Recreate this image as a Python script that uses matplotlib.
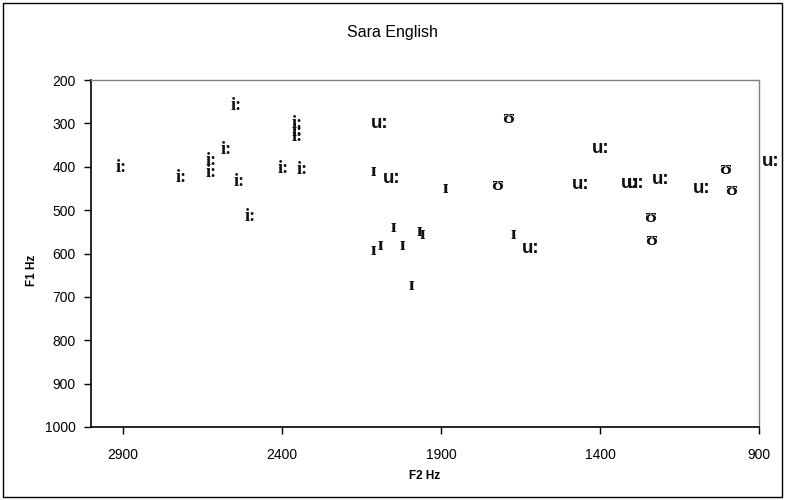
import matplotlib
matplotlib.use("Agg")
import matplotlib.pyplot as plt
import matplotlib.transforms as mtransforms
from matplotlib.patches import Rectangle

# ---- data (F2 Hz, F1 Hz) per vowel ----
i_f2 = [2931, 2745, 2650, 2650, 2603, 2571, 2560, 2528, 2423, 2379, 2379, 2379, 2363]
i_f1 = [401, 424, 386, 414, 361, 259, 434, 515, 404, 300, 318, 330, 407]

I_f2 = [2131, 1905, 2068, 1987, 1978, 2131, 2110, 2041, 2010, 1690]
I_f1 = [411, 450, 540, 550, 557, 593, 582, 582, 673, 556]

U_f2 = [1716, 1750, 1035, 1016, 1271, 1268]
U_f1 = [288, 444, 407, 454, 516, 569]

u_f2 = [2129, 2092, 1655, 1498, 1435, 1343, 1324, 1245, 1118, 900]
u_f1 = [300, 427, 588, 442, 357, 438, 438, 429, 450, 388]

x_ticks = [2900, 2400, 1900, 1400, 900]
y_ticks = [200, 300, 400, 500, 600, 700, 800, 900, 1000]

title = "Sara English"
xlabel = "F2 Hz"
ylabel = "F1 Hz"

sans = ["Liberation Sans", "DejaVu Sans"]
serif = ["Liberation Serif", "DejaVu Serif"]

fig = plt.figure(figsize=(7.85, 5.0), dpi=100)
ax = fig.add_axes([91 / 785, 1 - 427 / 500, (759 - 91) / 785, (427 - 80) / 500])

ax.set_xlim(3000, 900)
ax.set_ylim(1000, 200)
ax.set_xticks(x_ticks)
ax.set_yticks(y_ticks)
ax.tick_params(direction="out", length=5, width=1, labelsize=10, pad=6)
for lab in ax.get_xticklabels() + ax.get_yticklabels():
    lab.set_family(sans)
ax.tick_params(axis="x", pad=10)

for s in ["left", "bottom"]:
    ax.spines[s].set_color("black")
    ax.spines[s].set_linewidth(1.2)
for s in ["top", "right"]:
    ax.spines[s].set_color("#808080")
    ax.spines[s].set_linewidth(1.0)

off = mtransforms.offset_copy(ax.transData, fig=fig, x=3, y=0, units="dots")

def put(xs, ys, label, **kw):
    for x, y in zip(xs, ys):
        ax.text(x, y, label, transform=off, ha="left", va="center",
                clip_on=False, **kw)

put(i_f2, i_f1, "i:", family=serif, fontsize=13, fontweight="bold", color="#111111")
put(I_f2, I_f1, "\u026a", family=serif, fontsize=14, fontweight="bold", color="#111111")
put(U_f2, U_f1, "\u028a", family=serif, fontsize=14, fontweight="bold", color="#111111")
put(u_f2, u_f1, "u:", family=sans, fontsize=13.5, fontweight="bold", color="#111111")

fig.text(392 / 785, 1 - 32 / 500, title, ha="center", va="center",
         fontsize=11.5, family=sans)
fig.text(425 / 785, 1 - 476 / 500, xlabel, ha="center", va="center",
         fontsize=8.5, fontweight="bold", family=sans)
fig.text(32 / 785, 1 - 270 / 500, ylabel, ha="center", va="center",
         fontsize=8.5, fontweight="bold", family=sans, rotation=90)

fig.patches.append(Rectangle((3 / 785, 3 / 500), 779 / 785, 494 / 500,
                             transform=fig.transFigure, fill=False,
                             edgecolor="black", linewidth=1))

fig.savefig("out.png", dpi=100)
